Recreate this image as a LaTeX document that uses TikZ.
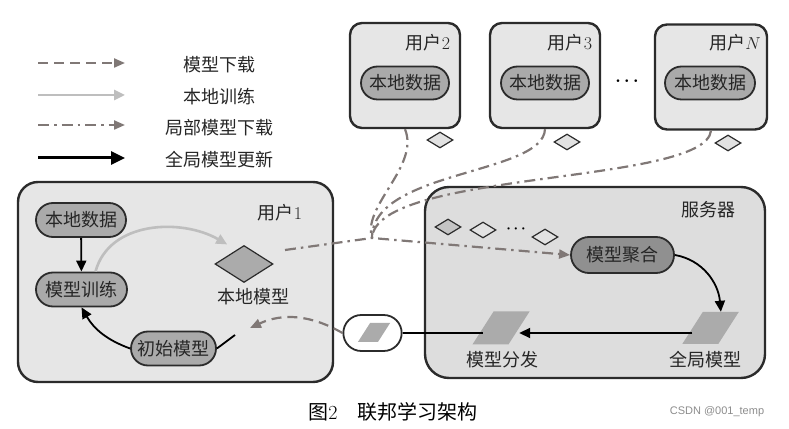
\documentclass[tikz,border=0pt]{standalone}
\usepackage{fontspec}
\newfontfamily\cjk{Noto Sans CJK SC}
\newfontfamily\wmfont{Liberation Sans}
\newcommand\lblfont{\cjk\fontsize{18}{21}\selectfont}
\usepackage{xcolor}
\definecolor{cEdge}{HTML}{2B2B2B}
\definecolor{cBox}{HTML}{E6E6E6}
\definecolor{cServer}{HTML}{DDDDDD}
\definecolor{cPill}{HTML}{AAAAAA}
\definecolor{cPillDark}{HTML}{909090}
\definecolor{cShape}{HTML}{ABABAB}
\definecolor{cSmall}{HTML}{E2E2E2}
\definecolor{cDash}{HTML}{807876}
\definecolor{cTrain}{HTML}{BEBEBE}
\usepackage{tikz}
\usetikzlibrary{positioning,arrows.meta,shapes.geometric,shapes.misc,calc}
\tikzset{
  node-user/.style={draw=cEdge,line width=2.4pt,rounded corners=12pt,fill=cBox},
  node-server/.style={draw=cEdge,line width=2.4pt,rounded corners=24pt,fill=cServer},
  node-pill/.style={draw=cEdge,line width=1.8pt,fill=cPill,rounded rectangle,
    minimum height=34pt,inner xsep=1pt,font=\lblfont,text=black!85},
  node-relay/.style={draw=cEdge,line width=1.8pt,fill=white,rounded rectangle,
    minimum width=65pt,minimum height=36pt},
  node-diamond/.style={draw=cEdge,line width=1.2pt,fill=cShape,diamond,
    minimum width=58pt,minimum height=37pt,inner sep=0pt},
  node-small/.style={draw=cEdge,line width=1.2pt,fill=cSmall,diamond,
    minimum width=26pt,minimum height=16pt,inner sep=0pt},
  node-para/.style={fill=cShape,rectangle,xslant=0.64,inner sep=0pt,
    minimum width=36pt,minimum height=32pt},
  node-text/.style={font=\lblfont,text=black!85},
  arrow-down/.style={-{Triangle[length=11pt,width=9pt]},line width=2.2pt,
    draw=cDash,dash pattern=on 10pt off 6pt},
  arrow-train/.style={-{Triangle[length=11pt,width=10pt]},line width=2.6pt,draw=cTrain},
  arrow-part/.style={-{Triangle[length=11pt,width=9pt]},line width=2.2pt,
    draw=cDash,dash pattern=on 11pt off 5pt on 2.5pt off 5pt},
  line-part/.style={line width=2.2pt,draw=cDash,
    dash pattern=on 11pt off 5pt on 2.5pt off 5pt},
  arrow-global/.style={-{Triangle[length=11pt,width=10pt]},line width=1.8pt,draw=black},
  line-global/.style={line width=1.8pt,draw=black},
}

\begin{document}
\begin{tikzpicture}[x=1pt,y=1pt]
  \useasboundingbox (0,0) rectangle (789,428);
  % legend
  \coordinate (lg-a1) at (38,365);  \coordinate (lg-b1) at (125,365);
  \coordinate (lg-a2) at (38,333);  \coordinate (lg-b2) at (125,333);
  \coordinate (lg-a3) at (38,303);  \coordinate (lg-b3) at (125,303);
  \coordinate (lg-a4) at (38,270);  \coordinate (lg-b4) at (125,270);
  \draw[arrow-down] (lg-a1) -- (lg-b1);
  \draw[arrow-train] (lg-a2) -- (lg-b2);
  \draw[arrow-part] (lg-a3) -- (lg-b3);
  \draw[arrow-global,line width=3pt,-{Triangle[length=14pt,width=13pt]}] (lg-a4) -- (lg-b4);
  \node[node-text] (lg-t1) at (219,363) {模型下载};
  \node[node-text] (lg-t2) at (219,331) {本地训练};
  \node[node-text] (lg-t3) at (219,300) {局部模型下载};
  \node[node-text] (lg-t4) at (219,268) {全局模型更新};

  % boxes
  \node[node-user,rounded corners=20pt,minimum width=315pt,minimum height=200pt] (user1) at (175.5,146) {};
  \node[node-user,minimum width=110pt,minimum height=105pt] (user2) at (405,352.5) {};
  \node[node-user,minimum width=110pt,minimum height=105pt] (user3) at (545,352.5) {};
  \node[node-user,minimum width=112pt,minimum height=105pt] (userN) at (711,351) {};
  \node[node-server,minimum width=340pt,minimum height=191pt] (server) at (595,145.5) {};
  \node[node-text] (user1-lbl) at (280,215) {用户{\rmfamily 1}};
  \node[node-text] (user2-lbl) at (428,385) {用户{\rmfamily 2}};
  \node[node-text] (user3-lbl) at (570,385) {用户{\rmfamily 3}};
  \node[node-text] (userN-lbl) at (735,385) {用户$N$};
  \node[node-text] (server-lbl) at (708,218) {服务器};

  % user 1
  \node[node-pill,minimum width=92pt] (data1) at (81,208) {本地数据};
  \node[node-pill,minimum width=93pt] (train) at (81.5,138.5) {模型训练};
  \node[node-pill,minimum width=87pt] (init) at (173.5,79.5) {初始模型};
  \node[node-diamond] (lm) at (244,164) {};
  \node[node-text] (lm-lbl) at (253,131) {本地模型};

  % other users
  \node[node-pill,minimum width=90pt,minimum height=33pt] (data2) at (405,345) {本地数据};
  \node[node-pill,minimum width=90pt,minimum height=33pt] (data3) at (545,345) {本地数据};
  \node[node-pill,minimum width=92pt,minimum height=33pt] (dataN) at (710,345) {本地数据};
  \node[font=\fontsize{18}{20}\selectfont\boldmath] (udots) at (627,347) {$\cdots$};
  \node[node-small] (dia2) at (440,288) {};
  \node[node-small] (dia3) at (567,286) {};
  \node[node-small] (diaN) at (728,285) {};

  % server
  \node[node-small,fill=cShape!70] (sd1) at (448,201) {};
  \node[node-small] (sd2) at (483,198) {};
  \node[font=\fontsize{14}{16}\selectfont\boldmath] (sdots) at (516,199) {$\cdots$};
  \node[node-small] (sd3) at (545,191) {};
  \node[node-pill,fill=cPillDark,minimum width=105pt,minimum height=36pt] (agg) at (622.5,173) {模型聚合};
  \node[node-para] (global) at (710.5,100) {};
  \node[node-para,minimum height=33pt] (distr) at (501,100) {};
  \node[node-text] (global-lbl) at (705,68) {全局模型};
  \node[node-text] (distr-lbl) at (502,68) {模型分发};

  % model in transit
  \node[node-relay] (relay) at (372.5,95) {};
  \node[node-para,minimum width=20pt,minimum height=19pt] (relay-p) at (374,95.5) {};

  % connectors
  \coordinate (init-stub) at (235,93);
  \coordinate (down-end) at (250,100);
  \coordinate (lm-out) at (285,178);
  \coordinate (merge) at (372,190);
  \draw[arrow-global] (data1) -- (train);
  \draw[arrow-train] ([xshift=14pt]train.north) to[out=75,in=150] ([shift={(-2,10)}]lm.north west);
  \draw[arrow-global] (init.west) to[out=160,in=-60] (train.south);
  \draw[line-global] (init.east) -- (init-stub);
  \draw[arrow-down] (relay.west) to[out=150,in=25] (down-end);
  \draw[line-global] (relay.east) -- (distr.west |- relay.east);
  \draw[arrow-global] (global.west |- relay.east) -- (distr.east |- relay.east);
  \draw[arrow-global] (agg.east) to[out=-10,in=95] (global.north);
  \draw[arrow-part] (lm-out) -- (merge) -- (agg.west);
  \draw[line-part] (user2.south) .. controls (420,262) and (362,222) .. (merge);
  \draw[line-part] (user3.south) .. controls (543,253) and (372,258) .. (merge);
  \draw[line-part] (userN.south) .. controls (705,243) and (376,258) .. (merge);

  % caption
  \node[font=\cjk\fontsize{20}{22}\selectfont] (caption) at (393,16) {图{\rmfamily 2}\quad 联邦学习架构};
  \node[font=\wmfont\fontsize{11}{13}\selectfont,text=black!45] (mark) at (717,16) {CSDN @001\_temp};
\end{tikzpicture}
\end{document}
